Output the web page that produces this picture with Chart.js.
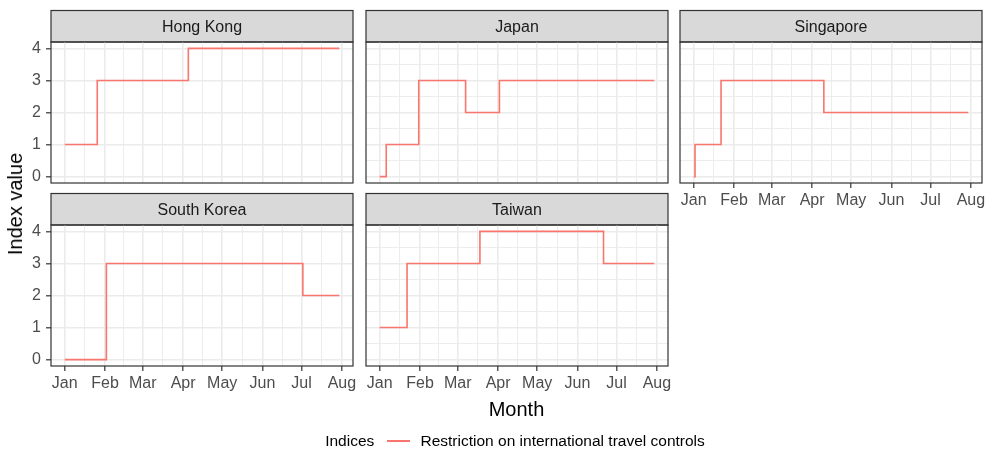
<!DOCTYPE html>
<html>
<head>
<meta charset="utf-8">
<script src="https://cdn.jsdelivr.net/npm/chart.js@4.4.1/dist/chart.umd.min.js"></script>
<style>
  html, body { margin: 0; padding: 0; background: #ffffff; }
  body { width: 987px; height: 449px; position: relative; overflow: hidden;
         font-family: "Liberation Sans", Arial, sans-serif; }
  canvas { position: absolute; }
  .txt { position: absolute; white-space: nowrap; color: #000000; }
</style>
</head>
<body>
<canvas id="hk" width="372" height="217"></canvas>
<canvas id="jp" width="372" height="217"></canvas>
<canvas id="sg" width="372" height="217"></canvas>
<canvas id="kr" width="372" height="217"></canvas>
<canvas id="tw" width="372" height="217"></canvas>

<div class="txt" id="ytitle" style="font-size:20px;line-height:20px;left:15px;top:203.5px;transform:translate(-50%,-50%) rotate(-90deg);">Index value</div>
<div class="txt" style="font-size:20px;line-height:20px;left:516.5px;top:399px;transform:translateX(-50%);">Month</div>
<div class="txt" style="font-size:15.5px;line-height:15.5px;left:325.2px;top:432.6px;">Indices</div>
<div style="position:absolute;left:387px;top:440.2px;width:23px;height:1.6px;background:#F8766D;"></div>
<div class="txt" style="font-size:15.5px;line-height:15.5px;left:420.5px;top:432.6px;">Restriction on international travel controls</div>

<script>
// Month axis: days counted from 1 Jan 2020 (day 0)
const monthLabels = ['Jan', 'Feb', 'Mar', 'Apr', 'May', 'Jun', 'Jul', 'Aug'];
const monthStartDays = [0, 31, 60, 91, 121, 152, 182, 213];
const firstDay = 0;
const lastDay = 211;
const indexTicks = [0, 1, 2, 3, 4];

// Restriction on international travel controls: day the level changes, and the new level
const hongKongDays = [0, 25, 95, 211];
const hongKongValues = [1, 3, 4, 4];
const japanDays = [0, 5, 30, 66, 92, 211];
const japanValues = [0, 1, 3, 2, 3, 3];
const singaporeDays = [0, 1, 21, 100, 211];
const singaporeValues = [0, 1, 3, 2, 2];
const southKoreaDays = [0, 32, 183, 211];
const southKoreaValues = [0, 3, 2, 2];
const taiwanDays = [0, 21, 77, 172, 211];
const taiwanValues = [1, 3, 4, 3, 3];

const LINE_COLOR = '#F8766D';
const GRID_COLOR = '#EBEBEB';
const FRAME_COLOR = '#333333';
const PANEL_W = 302, PANEL_H = 141, STRIP_H = 31.5;
const Y_AXIS_W = 60, X_AXIS_H = 40, PAD_TOP = 36, PAD_RIGHT = 10;

Chart.defaults.font.family = '"Liberation Sans", Arial, sans-serif';

// 5% expansion on both ends, like a default continuous scale
const xSpan = lastDay - firstDay;
const xMin = firstDay - 0.05 * xSpan, xMax = lastDay + 0.05 * xSpan;
const yMin = -0.2, yMax = 4.2;

const monthMids = monthStartDays.slice(1).map((d, i) => (d + monthStartDays[i]) / 2);
const xTickValues = monthStartDays.concat(monthMids).filter(v => v >= xMin && v <= xMax).sort((a, b) => a - b);
const yTickValues = [];
for (let v = 0; v <= 4; v += 0.5) yTickValues.push(v);

const isMonth = v => monthStartDays.indexOf(v) !== -1;
const isIndex = v => indexTicks.indexOf(v) !== -1;

const panelFrame = {
  id: 'panelFrame',
  beforeDraw(chart, args, opts) {
    const a = chart.chartArea, c = chart.ctx;
    c.save();
    c.fillStyle = '#D9D9D9';
    c.fillRect(a.left, a.top - STRIP_H, a.right - a.left, STRIP_H);
    c.strokeStyle = FRAME_COLOR;
    c.lineWidth = 1.2;
    c.strokeRect(a.left, a.top - STRIP_H, a.right - a.left, STRIP_H);
    c.fillStyle = '#1A1A1A';
    c.font = '16px "Liberation Sans", Arial, sans-serif';
    c.textAlign = 'center';
    c.textBaseline = 'middle';
    c.fillText(opts.title, (a.left + a.right) / 2, a.top - STRIP_H / 2 + 1);
    c.restore();
  },
  afterDraw(chart) {
    const a = chart.chartArea, c = chart.ctx;
    c.save();
    c.strokeStyle = FRAME_COLOR;
    c.lineWidth = 1.2;
    c.strokeRect(a.left, a.top, a.right - a.left, a.bottom - a.top);
    c.restore();
  }
};

function makePanel(id, title, days, values, showX, showY, left, top) {
  const canvas = document.getElementById(id);
  const chart = new Chart(canvas, {
    type: 'line',
    data: {
      datasets: [{
        data: days.map((d, i) => ({ x: d, y: values[i] })),
        stepped: true,
        borderColor: LINE_COLOR,
        borderWidth: 1.6,
        pointRadius: 0,
        fill: false,
        clip: false
      }]
    },
    options: {
      responsive: false,
      animation: false,
      events: [],
      layout: { autoPadding: false, padding: { left: 0, right: PAD_RIGHT, top: PAD_TOP, bottom: 0 } },
      plugins: {
        legend: { display: false },
        tooltip: { enabled: false },
        panelFrame: { title: title }
      },
      scales: {
        x: {
          type: 'linear',
          min: xMin, max: xMax,
          afterBuildTicks(scale) { scale.ticks = xTickValues.map(v => ({ value: v })); },
          afterFit(scale) { scale.height = X_AXIS_H; scale.paddingLeft = 0; scale.paddingRight = 0; },
          border: { display: false },
          grid: {
            color: GRID_COLOR,
            lineWidth: ctx => (ctx.tick && isMonth(ctx.tick.value)) ? 1.6 : 0.9,
            drawTicks: showX,
            tickLength: 5,
            tickColor: ctx => (ctx.tick && isMonth(ctx.tick.value)) ? FRAME_COLOR : 'rgba(0,0,0,0)',
            tickWidth: 1.2
          },
          ticks: {
            display: showX,
            autoSkip: false,
            maxRotation: 0,
            padding: 3,
            color: '#4D4D4D',
            font: { size: 16 },
            callback: v => isMonth(v) ? monthLabels[monthStartDays.indexOf(v)] : ''
          }
        },
        y: {
          type: 'linear',
          min: yMin, max: yMax,
          afterBuildTicks(scale) { scale.ticks = yTickValues.map(v => ({ value: v })); },
          afterFit(scale) { scale.width = Y_AXIS_W; scale.paddingTop = 0; scale.paddingBottom = 0; },
          border: { display: false },
          grid: {
            color: GRID_COLOR,
            lineWidth: ctx => (ctx.tick && isIndex(ctx.tick.value)) ? 1.6 : 0.9,
            drawTicks: showY,
            tickLength: 5,
            tickColor: ctx => (ctx.tick && isIndex(ctx.tick.value)) ? FRAME_COLOR : 'rgba(0,0,0,0)',
            tickWidth: 1.2
          },
          ticks: {
            display: showY,
            padding: 5,
            color: '#4D4D4D',
            font: { size: 16 },
            callback: v => isIndex(v) ? String(v) : ''
          }
        }
      }
    },
    plugins: [panelFrame]
  });
  // put the plotting area at its place in the grid of panels
  const a = chart.chartArea;
  canvas.style.left = (left - a.left) + 'px';
  canvas.style.top = (top - a.top) + 'px';
  return chart;
}

makePanel('hk', 'Hong Kong', hongKongDays, hongKongValues, false, true, 51, 41.5);
makePanel('jp', 'Japan', japanDays, japanValues, false, false, 365.5, 41.5);
makePanel('sg', 'Singapore', singaporeDays, singaporeValues, true, false, 680, 41.5);
makePanel('kr', 'South Korea', southKoreaDays, southKoreaValues, true, true, 51, 224.5);
makePanel('tw', 'Taiwan', taiwanDays, taiwanValues, true, false, 365.5, 224.5);
</script>
</body>
</html>
